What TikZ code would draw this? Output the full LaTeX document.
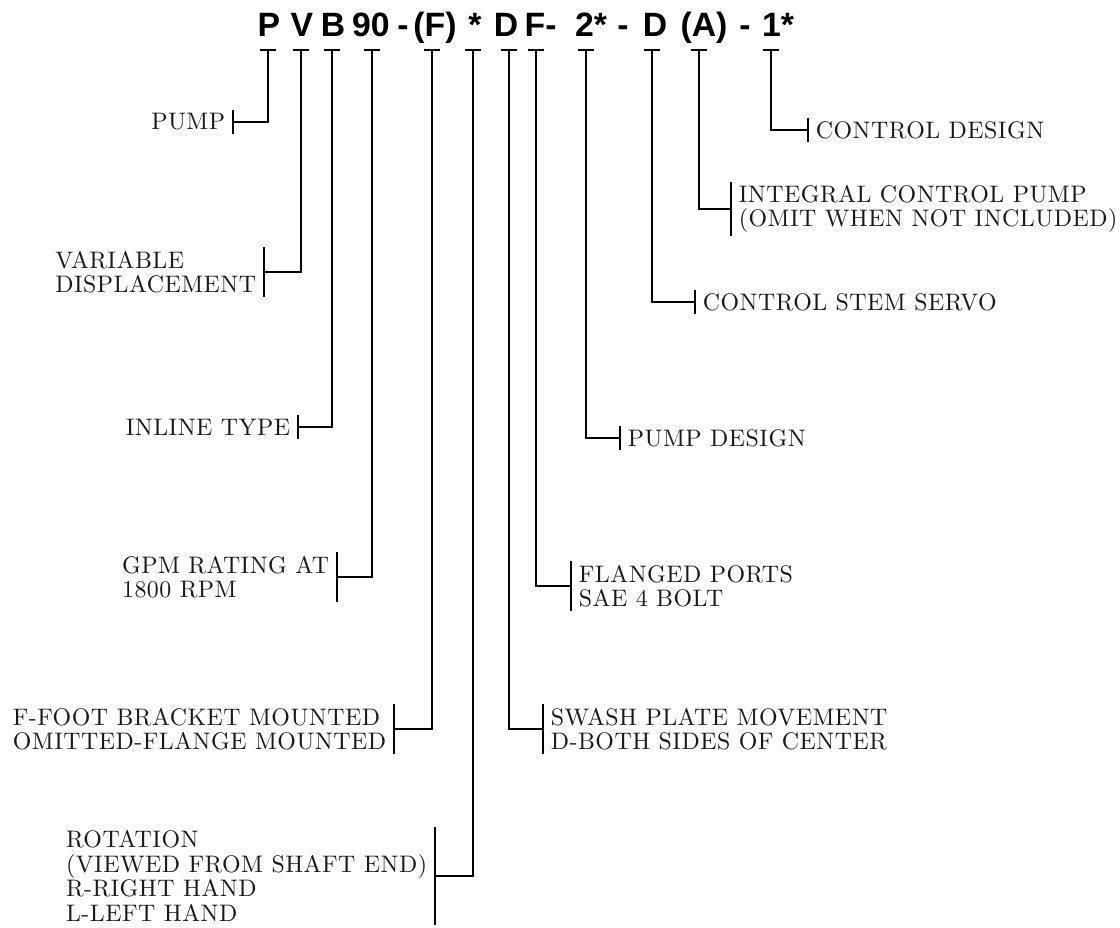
\documentclass[tikz,border=0pt]{standalone}
\usepackage{fontspec}
\newfontfamily\headfont{Liberation Sans}
\newfontfamily\lblfont{lmroman10-regular.otf}[LetterSpace=2]
\usepackage{tikz}

\begin{document}
\begin{tikzpicture}[x=0.025cm,y=-0.025cm,line width=1.2pt,
        code/.style={font=\headfont\bfseries\fontsize{24}{24}\selectfont,anchor=base,inner sep=0pt},
        lbl/.style={font=\lblfont\fontsize{17}{17.4}\selectfont,align=left,inner xsep=5pt,inner ysep=0pt,text=black!90}]
    \useasboundingbox (0,0) rectangle (1120,928);
    \foreach \n/\x/\t in {p/269/P,v/302/V,b/333/B,n/371/90,h1/403/-,f/435/(F),s/475/*,d/506/D,fl/535/F,h2/551/-,two/591/2*,h3/623/-,dd/655/D,a/704/(A),h4/745/-,one/778/1*}{
        \node[code] (c-\n) at (\x,36) {\t};
    }
    \foreach \n/\x in {p/268,v/301,b/332,n/372,f/432,s/473,d/509,fl/536,two/586,dd/652,a/699,one/771}{
        \coordinate (t-\n) at (\x,50);
        \draw (\x-8,50)--(\x+8,50);
    }
    \node[lbl,anchor=east] (pump) at (233,122) {PUMP};
    \node[lbl,anchor=east] (vardisp) at (264,272) {VARIABLE\\DISPLACEMENT};
    \node[lbl,anchor=east] (inline) at (298,427) {INLINE TYPE};
    \node[lbl,anchor=east] (gpm) at (337,577) {GPM RATING AT\\1800 RPM};
    \node[lbl,anchor=east] (mount) at (394,729) {F-FOOT BRACKET MOUNTED\\OMITTED-FLANGE MOUNTED};
    \node[lbl,anchor=east] (rotation) at (435,876) {ROTATION\\(VIEWED FROM SHAFT END)\\R-RIGHT HAND\\L-LEFT HAND};
    \node[lbl,anchor=west] (swash) at (543,729) {SWASH PLATE MOVEMENT\\D-BOTH SIDES OF CENTER};
    \node[lbl,anchor=west] (ports) at (571,586) {FLANGED PORTS\\SAE 4 BOLT};
    \node[lbl,anchor=west] (pdesign) at (620,438) {PUMP DESIGN};
    \node[lbl,anchor=west] (servo) at (695,302) {CONTROL STEM SERVO};
    \node[lbl,anchor=west] (integral) at (731,209) {INTEGRAL CONTROL PUMP\\(OMIT WHEN NOT INCLUDED)};
    \node[lbl,anchor=west] (cdesign) at (808,130) {CONTROL DESIGN};
    \foreach \t/\l/\s in {p/pump/east,v/vardisp/east,b/inline/east,n/gpm/east,f/mount/east,s/rotation/east,d/swash/west,fl/ports/west,two/pdesign/west,dd/servo/west,a/integral/west,one/cdesign/west}{
        \draw (t-\t) |- (\l.\s);
        \draw ([yshift=2pt]\l.north \s)--([yshift=-2pt]\l.south \s);
    }
\end{tikzpicture}
\end{document}
